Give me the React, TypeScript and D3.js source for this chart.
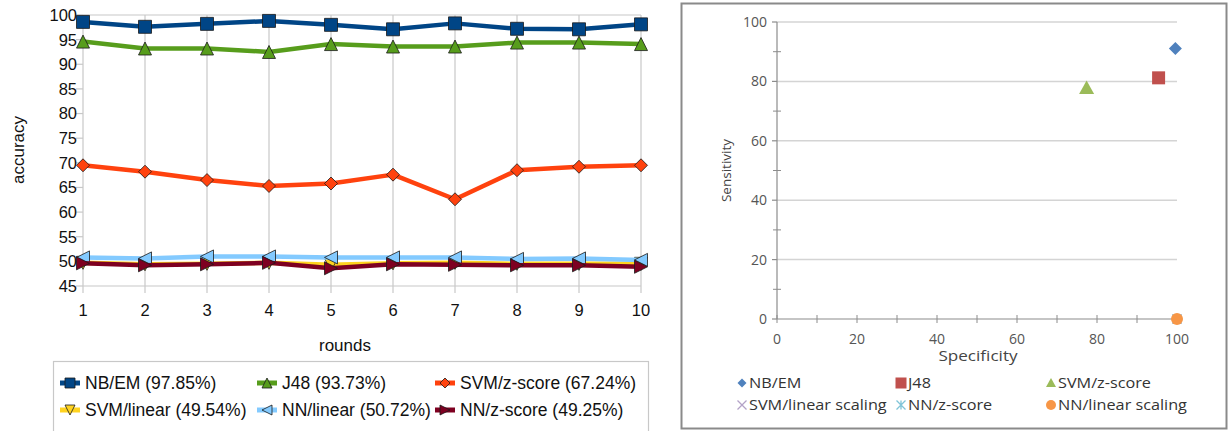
import React from "react";
import * as d3 from "d3";

// ---------- Left chart data ----------
const rounds = [1, 2, 3, 4, 5, 6, 7, 8, 9, 10];
const nbEm = [98.6, 97.6, 98.2, 98.8, 98.0, 97.1, 98.3, 97.2, 97.1, 98.1];
const j48 = [94.6, 93.2, 93.2, 92.5, 94.1, 93.6, 93.6, 94.4, 94.4, 94.1];
const svmZ = [69.5, 68.2, 66.5, 65.3, 65.8, 67.6, 62.6, 68.5, 69.2, 69.5];
const svmLin = [49.7, 49.4, 49.5, 49.7, 49.3, 49.6, 49.7, 49.5, 49.5, 49.5];
const nnLin = [50.8, 50.6, 51.0, 51.0, 50.8, 50.8, 50.8, 50.5, 50.6, 50.3];
const nnZ = [49.6, 49.2, 49.4, 49.7, 48.6, 49.4, 49.3, 49.2, 49.2, 48.9];
const yTicksLeft = [45, 50, 55, 60, 65, 70, 75, 80, 85, 90, 95, 100];

const leftSeries = [
  { name: "NB/EM (97.85%)", values: nbEm, color: "#004586", marker: "square" },
  { name: "J48 (93.73%)", values: j48, color: "#579d1c", marker: "up" },
  { name: "SVM/z-score (67.24%)", values: svmZ, color: "#ff420e", marker: "diamond" },
  { name: "SVM/linear (49.54%)", values: svmLin, color: "#ffd320", marker: "down" },
  { name: "NN/linear (50.72%)", values: nnLin, color: "#83caff", marker: "left" },
  { name: "NN/z-score (49.25%)", values: nnZ, color: "#7e0021", marker: "right" },
];

// ---------- Right chart data ----------
const rightNames = ["NB/EM", "J48", "SVM/z-score", "SVM/linear scaling", "NN/z-score", "NN/linear scaling"];
const specificity = [99.6, 95.4, 77.4, 100, 100, 100];
const sensitivity = [91.1, 81.2, 77.8, 0, 0, 0];
const rightColors = ["#4f81bd", "#c0504d", "#9bbb59", "#b3a2c7", "#7fc4d8", "#f79646"];
const rightMarkers = ["diamond", "square", "triangle", "x", "star", "circle"];
const rightTicks = [0, 20, 40, 60, 80, 100];
const rightMinor = [10, 30, 50, 70, 90];

function markerPath(kind: string, s: number): string {
  const h = s / 2;
  switch (kind) {
    case "square":
      return `M${-h},${-h}H${h}V${h}H${-h}Z`;
    case "up":
      return `M0,${-h}L${h},${h}L${-h},${h}Z`;
    case "down":
      return `M0,${h}L${h},${-h}L${-h},${-h}Z`;
    case "left":
      return `M${-h},0L${h},${-h}L${h},${h}Z`;
    case "right":
      return `M${h},0L${-h},${-h}L${-h},${h}Z`;
    case "diamond":
      return `M0,${-h}L${h},0L0,${h}L${-h},0Z`;
    default:
      return "";
  }
}

function LeftChart() {
  const x = d3.scaleLinear().domain([1, 10]).range([83, 641]);
  const y = d3.scaleLinear().domain([45, 100]).range([286, 15]);
  const line = d3
    .line<number>()
    .x((_, i) => x(rounds[i]))
    .y((d) => y(d));
  const font = "'Liberation Sans', Arial, sans-serif";
  const legendCols = [60, 257, 435];
  const legendRows = [383, 410];
  return (
    <g>
      {rounds.map((r) => (
        <line key={"vg" + r} x1={x(r)} x2={x(r)} y1={y(100)} y2={y(45) + 7} stroke="#c8c8c8" strokeWidth={1.2} />
      ))}
      <line x1={x(1)} x2={x(10)} y1={y(100)} y2={y(100)} stroke="#c8c8c8" strokeWidth={1.2} />
      <line x1={x(1)} x2={x(10)} y1={y(45)} y2={y(45)} stroke="#c8c8c8" strokeWidth={1.2} />
      {yTicksLeft.map((t) => (
        <g key={"yt" + t}>
          <line x1={x(1) - 7} x2={x(1)} y1={y(t)} y2={y(t)} stroke="#c8c8c8" strokeWidth={1.2} />
          <text x={x(1) - 6} y={y(t)} dy="0.36em" textAnchor="end" fontFamily={font} fontSize={16.5} fill="#111">
            {t}
          </text>
        </g>
      ))}
      {rounds.map((r) => (
        <text key={"xt" + r} x={x(r)} y={310} dy="0.36em" textAnchor="middle" fontFamily={font} fontSize={16.5} fill="#111">
          {r}
        </text>
      ))}
      <text x={345} y={345} dy="0.36em" textAnchor="middle" fontFamily={font} fontSize={17} fill="#111">
        rounds
      </text>
      <text transform={`translate(18,150) rotate(-90)`} dy="0.36em" textAnchor="middle" fontFamily={font} fontSize={17} fill="#111">
        accuracy
      </text>
      {leftSeries.map((s) => (
        <g key={s.name}>
          <path d={line(s.values) || ""} fill="none" stroke={s.color} strokeWidth={4.5} strokeLinejoin="round" />
          {s.values.map((v, i) => (
            <path
              key={i}
              d={markerPath(s.marker, 13)}
              transform={`translate(${x(rounds[i])},${y(v)})`}
              fill={s.color}
              stroke="#1a1a1a"
              strokeWidth={0.8}
            />
          ))}
        </g>
      ))}
      <rect x={53.5} y={361.5} width={595} height={90} fill="none" stroke="#c8c8c8" strokeWidth={1.2} />
      {leftSeries.map((s, i) => {
        const cx = legendCols[i % 3];
        const cy = legendRows[Math.floor(i / 3)];
        return (
          <g key={"lg" + i}>
            <line x1={cx} x2={cx + 20} y1={cy} y2={cy} stroke={s.color} strokeWidth={5} />
            <path d={markerPath(s.marker, 10)} transform={`translate(${cx + 10},${cy})`} fill={s.color} stroke="#1a1a1a" strokeWidth={0.8} />
            <text x={cx + 25} y={cy} dy="0.36em" fontFamily={font} fontSize={17.5} fill="#111">
              {s.name}
            </text>
          </g>
        );
      })}
    </g>
  );
}

function RightMarker({ kind, color, cx, cy, s }: { kind: string; color: string; cx: number; cy: number; s: number }) {
  const h = s / 2;
  if (kind === "circle") return <circle cx={cx} cy={cy} r={h} fill={color} />;
  if (kind === "x")
    return (
      <path d={`M${cx - h},${cy - h}L${cx + h},${cy + h}M${cx - h},${cy + h}L${cx + h},${cy - h}`} stroke={color} strokeWidth={1.3} />
    );
  if (kind === "star")
    return (
      <path
        d={`M${cx - h},${cy - h}L${cx + h},${cy + h}M${cx - h},${cy + h}L${cx + h},${cy - h}M${cx},${cy - h}L${cx},${cy + h}`}
        stroke={color}
        strokeWidth={1.3}
      />
    );
  if (kind === "square") return <rect x={cx - h} y={cy - h} width={s} height={s} fill={color} />;
  if (kind === "triangle") return <path d={`M${cx},${cy - h}L${cx + h},${cy + h * 0.8}L${cx - h},${cy + h * 0.8}Z`} fill={color} />;
  return <path d={`M${cx},${cy - h}L${cx + h},${cy}L${cx},${cy + h}L${cx - h},${cy}Z`} fill={color} />;
}

function RightChart() {
  const x = d3.scaleLinear().domain([0, 100]).range([777, 1177]);
  const y = d3.scaleLinear().domain([0, 100]).range([319, 22]);
  const font = "'Open Sans', 'Noto Sans', sans-serif";
  const axisColor = "#8c8c8c";
  const legendText = [749, 908, 1058];
  const legendRows = [383, 405];
  const sizes = [13, 13, 15, 9, 9, 12];
  const legSizes = [9, 11, 10, 9, 9, 10];
  return (
    <g>
      <rect x={681.5} y={3.5} width={545} height={425} fill="#fff" stroke="#8a8a8a" strokeWidth={2} />
      {rightTicks.slice(1).map((t) => (
        <line key={"g" + t} x1={x(0)} x2={x(100)} y1={y(t)} y2={y(t)} stroke="#d4d4d4" strokeWidth={1.5} />
      ))}
      <line x1={x(0)} x2={x(0)} y1={y(100)} y2={y(0)} stroke={axisColor} strokeWidth={1.2} />
      <line x1={x(0)} x2={x(100)} y1={y(0)} y2={y(0)} stroke={axisColor} strokeWidth={1.2} />
      {rightTicks.map((t) => (
        <g key={"yt" + t}>
          <line x1={x(0) - 5} x2={x(0)} y1={y(t)} y2={y(t)} stroke={axisColor} strokeWidth={1.2} />
          <text x={x(0) - 10} y={y(t)} dy="0.36em" textAnchor="end" fontFamily={font} fontSize={14} fill="#555">
            {t}
          </text>
        </g>
      ))}
      {rightMinor.map((t) => (
        <line key={"ym" + t} x1={x(0) - 4} x2={x(0) + 4} y1={y(t)} y2={y(t)} stroke={axisColor} strokeWidth={1} />
      ))}
      {[...rightTicks, ...rightMinor].map((t) => (
        <line key={"xt" + t} x1={x(t)} x2={x(t)} y1={y(0) - 4} y2={y(0) + 4} stroke={axisColor} strokeWidth={1} />
      ))}
      {rightTicks.map((t) => (
        <text key={"xl" + t} x={x(t)} y={339} dy="0.36em" textAnchor="middle" fontFamily={font} fontSize={14} fill="#555">
          {t}
        </text>
      ))}
      <g transform="translate(978,356) scale(1.14,1)">
        <text dy="0.36em" textAnchor="middle" fontFamily={font} fontSize={15} fill="#444">
          Specificity
        </text>
      </g>
      <text transform={`translate(726,${(y(0) + y(100)) / 2}) rotate(-90)`} dy="0.36em" textAnchor="middle" fontFamily={font} fontSize={13.5} fill="#444">
        Sensitivity
      </text>
      {[3, 4, 0, 1, 2, 5].map((i) => (
        <RightMarker key={"pt" + i} kind={rightMarkers[i]} color={rightColors[i]} cx={x(specificity[i])} cy={y(sensitivity[i])} s={sizes[i]} />
      ))}
      {rightNames.map((n, i) => {
        const tx = legendText[i % 3];
        const ty = legendRows[Math.floor(i / 3)];
        return (
          <g key={"rl" + i}>
            <RightMarker kind={rightMarkers[i]} color={rightColors[i]} cx={tx - 7} cy={ty} s={legSizes[i]} />
            <g transform={`translate(${tx},${ty}) scale(1.12,1)`}>
              <text dy="0.36em" fontFamily={font} fontSize={14.5} fill="#333">
                {n}
              </text>
            </g>
          </g>
        );
      })}
    </g>
  );
}

export default function App() {
  return (
    <svg width={1228} height={431} style={{ position: "absolute", left: 0, top: 0, background: "#fff" }}>
      <rect x={0} y={0} width={1228} height={431} fill="#fff" />
      <LeftChart />
      <RightChart />
    </svg>
  );
}
